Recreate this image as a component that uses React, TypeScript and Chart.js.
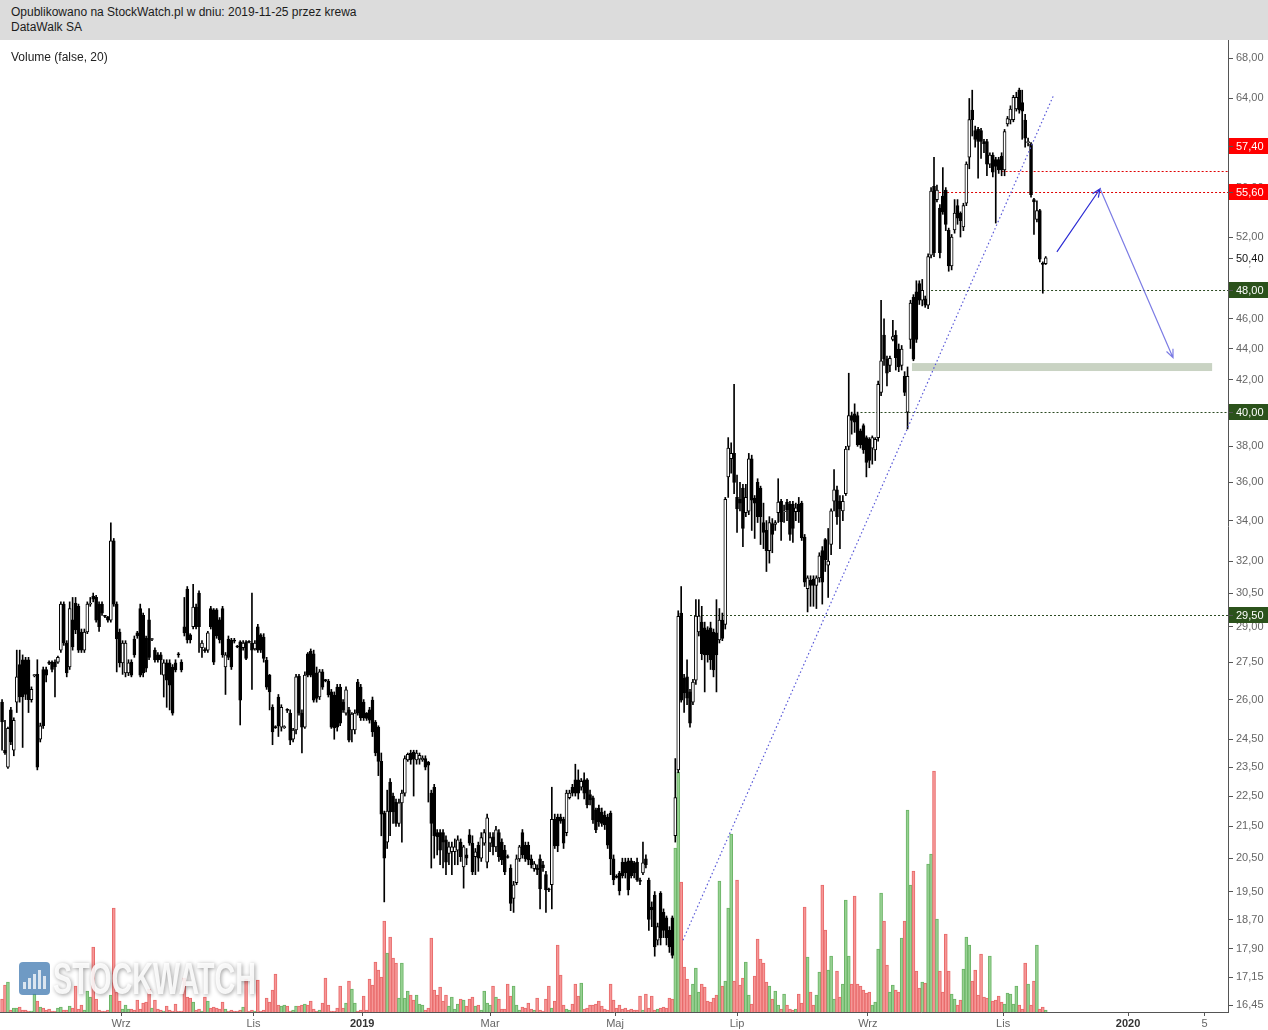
import React, { useEffect, useRef } from 'react';
import { Chart, registerables } from 'chart.js';

Chart.register(...registerables);

// ---- DATA: DataWalk SA daily candles (PLN), index = trading-day number ----
const openPrice = [
  25.9,24.1,23.5,25.6,24.1,25.9,27.4,27.6,27.6,27.6,
  26.0,26.95,27.0,24.5,27.2,27.2,27.5,27.5,27.5,27.5,
  28.0,30.0,28.3,27.3,29.3,30.05,29.9,28.77,28.0,28.77,
  30.0,30.36,30.31,30.0,30.0,29.47,29.42,29.29,32.98,30.0,
  28.77,27.47,27.06,27.06,27.5,28.47,28.73,29.8,29.5,28.5,
  29.3,28.45,28.0,27.8,27.8,26.97,27.47,27.47,27.3,27.47,
  27.85,27.5,29.0,30.68,28.65,29.0,29.87,30.5,28.1,28.0,
  28.0,29.8,29.74,29.74,29.3,29.8,27.3,28.47,28.43,28.4,
  28.15,28.35,28.1,28.35,28.35,28.3,28.05,29.0,28.65,28.55,
  27.59,26.97,25.7,24.95,26.1,24.95,24.93,25.6,25.48,24.5,
  24.84,26.93,25.48,24.95,27.85,27.95,27.85,27.06,26.1,27.1,
  26.77,26.73,26.3,26.18,26.49,26.49,25.9,25.48,25.6,24.84,
  24.84,26.69,26.49,25.9,25.48,25.6,25.98,25.14,24.95,23.7,
  21.93,21.0,22.98,22.5,22.3,21.6,22.27,22.6,23.75,24.0,
  24.03,23.75,23.78,23.75,23.8,23.68,22.6,22.8,21.3,21.3,
  21.3,21.07,20.65,20.7,20.7,20.75,21.0,20.23,20.6,21.23,
  20.97,20.55,20.9,20.5,20.97,20.38,20.97,21.17,20.85,21.3,
  21.0,20.75,20.55,20.2,19.3,19.76,20.48,21.3,20.9,20.9,
  20.48,20.18,20.2,20.48,20.3,20.0,19.56,19.7,21.73,21.8,
  21.8,21.73,21.3,22.45,22.8,23.05,23.05,22.8,23.05,23.05,
  22.55,22.44,22.04,22.1,21.97,21.87,21.8,21.93,20.48,19.95,
  20.05,20.38,20.38,20.42,20.42,20.36,20.38,19.82,20.05,20.48,
  19.84,19.05,19.4,18.13,19.45,18.9,18.75,18.4,18.75,21.2,
  23.4,29.6,26.85,26.9,26.3,25.9,26.77,28.77,29.2,28.95,
  28.86,28.95,28.77,28.73,28.43,29.29,29.1,36.3,37.3,37.6,
  35.2,35.1,35.7,34.4,34.48,37.3,35.16,36.0,35.7,33.9,
  33.5,32.5,33.85,33.8,34.4,35.0,34.45,34.95,34.85,34.85,
  34.45,34.85,34.9,33.17,30.7,31.1,31.15,30.85,31.2,32.5,
  33.05,31.8,32.8,35.0,35.6,35.0,34.5,35.4,38.0,39.8,
  39.9,39.8,38.9,39.2,38.5,38.4,37.9,37.8,38.5,41.2,
  44.9,43.3,42.9,44.6,44.9,43.97,42.9,42.2,40.0,44.6,
  47.5,47.9,48.5,47.3,47.4,46.95,50.6,56.1,55.0,54.3,
  55.3,55.8,52.55,49.8,52.55,54.5,53.9,52.8,54.7,58.6,
  62.9,61.0,61.1,61.0,60.0,60.0,58.0,58.8,58.4,58.4,
  58.7,57.5,61.6,61.97,62.0,63.0,64.8,63.6,61.97,59.9,
  59.8,55.0,53.4,54.1,50.0,49.97,
];

const highPrice = [
  26.0,25.2,24.95,25.7,25.3,28.0,28.0,27.8,27.7,27.7,
  26.5,27.0,27.6,25.1,27.3,27.3,27.55,27.55,27.6,27.75,
  30.1,30.1,28.4,30.1,30.3,30.3,30.0,28.9,28.9,30.1,
  30.3,30.5,30.4,30.1,30.1,29.5,29.45,33.88,33.1,30.1,
  28.9,28.4,28.4,27.6,27.6,28.6,28.8,30.0,29.6,28.6,
  29.8,28.5,28.1,27.9,27.9,27.6,27.6,27.6,27.4,27.6,
  27.9,27.6,30.3,30.8,28.7,30.9,30.0,30.6,28.4,28.1,
  28.8,29.9,29.8,29.8,29.4,29.9,27.9,28.6,28.5,28.5,
  28.2,28.4,28.4,28.4,28.4,30.5,28.4,29.1,28.7,28.7,
  27.7,27.0,25.8,25.0,26.2,25.8,25.0,25.65,25.6,24.9,
  27.0,27.0,25.6,27.1,27.9,28.05,28.0,27.3,27.2,27.2,
  26.8,26.8,26.4,26.3,26.6,26.6,26.0,26.5,25.7,25.5,
  25.6,26.8,26.6,26.0,25.5,25.7,26.1,25.2,25.0,24.0,
  22.0,22.7,23.1,22.6,22.4,22.4,22.7,23.9,24.0,24.1,
  24.1,24.1,24.0,23.9,23.9,23.7,22.7,22.9,21.4,21.4,
  21.4,21.2,21.0,21.0,21.1,21.2,21.1,20.9,20.8,21.4,
  21.2,20.8,21.0,21.3,21.4,21.9,21.3,21.3,21.5,21.4,
  21.1,20.9,20.6,20.3,19.8,20.6,20.9,21.4,21.0,21.0,
  20.6,20.4,20.3,20.6,20.4,20.1,19.6,22.8,21.9,21.9,
  21.9,21.8,22.7,22.7,22.9,23.6,23.4,23.1,23.3,23.1,
  22.7,22.5,22.1,22.2,22.1,22.0,21.9,22.0,20.6,20.0,
  20.1,20.5,20.5,20.5,20.5,20.4,20.5,19.9,21.0,20.6,
  19.9,19.2,19.5,18.6,19.5,19.0,18.8,18.5,18.8,23.8,
  29.7,30.8,27.0,27.6,26.4,26.8,30.2,30.2,29.9,29.2,
  29.0,29.2,28.9,30.2,29.8,29.6,35.2,38.5,38.2,41.7,
  36.4,36.0,35.9,35.9,37.6,37.5,35.3,36.2,35.8,34.9,
  34.0,34.2,34.1,34.0,36.2,35.1,34.8,35.1,35.0,35.0,
  34.9,35.2,35.0,33.3,31.3,31.3,31.3,31.3,32.4,32.7,
  33.1,33.6,34.6,36.7,35.8,35.3,35.3,38.0,42.4,40.0,
  40.5,40.0,39.0,39.3,38.6,38.5,38.6,38.5,41.9,47.3,
  46.0,43.5,43.5,45.9,45.2,44.3,44.2,42.5,42.8,47.3,
  47.7,48.7,48.7,48.8,47.6,50.7,56.0,58.6,56.2,54.6,
  57.7,56.0,52.7,52.2,55.0,55.0,54.0,54.7,58.2,64.0,
  64.8,61.4,61.3,61.2,60.2,60.2,59.0,59.0,58.6,58.6,
  59.0,61.1,62.3,63.3,64.3,64.6,65.0,64.8,62.5,60.3,
  59.9,55.1,54.9,54.2,50.1,50.5,
];

const lowPrice = [
  24.1,23.95,23.45,24.3,23.9,25.5,25.9,24.2,26.0,25.5,
  25.9,26.9,23.4,24.4,24.9,26.7,27.4,27.1,26.1,27.45,
  27.9,28.2,26.9,27.2,28.0,28.7,27.9,27.9,27.9,28.7,
  29.9,30.1,29.2,28.8,29.5,29.4,29.2,29.2,29.9,27.1,
  27.3,27.0,26.9,26.95,26.9,27.7,28.5,26.9,26.9,27.1,
  27.6,28.4,27.5,27.5,27.0,26.1,25.7,25.6,25.4,27.1,
  27.7,27.1,28.6,28.3,28.3,28.9,28.9,27.9,27.7,27.9,
  27.9,28.9,27.4,28.5,28.3,27.7,26.2,27.6,27.2,28.3,
  28.1,25.03,28.0,27.6,28.3,26.4,28.0,27.9,27.9,27.5,
  26.4,25.6,24.3,24.9,24.6,24.8,24.9,25.5,24.3,24.4,
  24.7,25.4,24.0,24.9,26.9,26.9,25.9,25.9,26.0,26.4,
  26.7,26.1,24.9,24.5,24.8,25.0,25.5,25.4,24.4,24.4,
  24.7,25.4,25.2,25.2,25.2,25.1,24.6,23.9,23.2,21.2,
  19.2,20.8,21.2,21.6,21.5,21.5,21.0,22.5,23.7,23.6,
  22.5,23.6,23.6,23.7,23.4,22.3,20.2,20.5,20.6,20.3,
  20.2,20.0,20.3,20.0,20.3,20.3,20.4,19.6,20.3,20.9,
  20.0,20.0,20.1,20.4,20.9,20.2,20.7,20.6,20.7,20.4,
  20.3,20.0,20.5,18.95,18.9,19.7,20.4,20.5,20.4,20.3,
  20.2,20.1,20.0,19.0,20.1,18.9,19.5,19.0,20.8,20.7,
  21.6,20.8,21.2,22.4,22.5,22.5,22.4,22.7,22.4,22.1,
  22.2,21.6,21.3,21.5,21.5,21.4,20.8,20.0,19.7,19.9,
  19.4,19.9,19.9,19.4,19.9,19.9,19.8,19.7,20.0,20.2,
  18.4,18.5,17.7,18.0,18.0,18.2,18.0,17.8,17.65,21.0,
  23.3,25.9,25.5,25.8,24.95,25.8,26.6,28.6,27.6,26.3,
  27.5,27.2,26.9,26.3,28.3,28.4,28.9,35.2,36.5,35.4,
  33.4,34.5,32.7,34.2,34.3,33.5,33.1,33.9,32.8,32.6,
  31.5,31.9,32.4,33.5,33.9,33.0,33.9,34.0,33.0,32.9,
  34.0,33.9,33.0,30.8,29.65,29.9,29.9,29.8,31.0,30.0,
  31.5,30.3,32.3,34.5,33.8,32.6,34.0,35.3,37.8,38.7,
  38.8,38.0,37.9,37.6,36.3,36.8,37.0,37.2,38.3,41.0,
  42.9,41.6,42.5,44.5,42.6,42.5,42.6,41.0,39.0,44.0,
  43.2,44.4,47.0,46.9,46.8,46.7,50.4,50.5,54.8,50.4,
  53.8,52.5,49.4,49.5,52.3,53.0,52.0,52.5,54.5,57.6,
  60.5,59.5,56.8,58.5,59.0,57.0,57.7,56.9,53.1,57.2,
  57.0,57.0,61.4,61.6,61.8,62.8,62.6,60.2,59.5,59.6,
  55.2,52.2,53.2,50.1,47.8,49.9,
];

const closePrice = [
  25.14,24.0,24.9,24.4,25.2,26.9,26.1,26.1,26.2,26.0,
  26.4,26.97,23.5,25.0,25.0,26.97,27.45,27.2,27.3,27.7,
  30.0,28.3,27.06,29.8,28.13,28.86,28.0,28.0,28.77,30.0,
  30.05,30.22,29.29,29.0,29.6,29.45,29.29,32.98,30.0,28.47,
  27.47,28.3,28.3,27.47,26.97,27.8,28.6,26.97,27.06,27.25,
  27.7,28.47,27.59,27.59,27.6,27.47,26.77,26.57,25.48,27.18,
  27.8,27.18,28.73,28.43,28.43,29.87,29.0,29.0,28.3,27.98,
  28.73,29.0,27.5,28.6,28.43,27.8,27.8,27.7,27.3,28.38,
  28.13,25.98,28.3,27.65,28.33,28.0,28.3,28.0,28.0,27.65,
  26.49,26.3,24.77,24.93,24.99,25.7,24.95,25.58,24.47,24.84,
  26.9,25.48,24.95,26.97,26.97,26.97,25.98,26.05,27.1,26.49,
  26.75,26.18,24.95,24.92,24.95,25.1,25.6,26.38,24.47,25.44,
  25.48,25.48,25.3,25.3,25.28,25.21,24.77,24.0,23.7,21.9,
  20.5,22.0,21.97,21.97,21.6,22.27,22.6,23.8,23.95,23.75,
  23.78,24.0,23.92,23.82,23.5,23.57,21.6,21.2,21.17,20.75,
  21.0,20.38,20.85,20.85,20.85,21.07,20.55,20.85,20.5,20.97,
  20.08,20.7,20.5,21.14,21.3,21.78,21.14,20.85,21.39,20.55,
  20.45,20.08,20.52,19.16,19.7,20.48,20.85,20.6,20.48,20.45,
  20.3,20.33,20.15,19.58,20.2,19.55,19.55,21.73,20.88,20.88,
  21.67,20.97,22.6,22.6,22.6,22.6,22.6,23.0,22.6,22.2,
  22.37,21.71,21.39,21.65,21.6,21.55,20.9,20.48,19.84,19.92,
  19.52,19.97,20.05,19.55,19.97,20.05,19.84,19.8,20.36,20.3,
  18.7,18.97,17.95,18.5,18.2,18.4,18.2,17.95,17.72,22.45,
  29.45,25.98,26.26,26.06,25.1,26.69,29.47,29.47,27.85,27.8,
  27.8,27.6,27.18,27.8,29.29,28.5,35.1,37.9,37.6,36.0,
  34.6,34.9,33.6,35.2,37.3,35.06,34.9,34.2,34.2,33.4,
  32.5,33.9,33.3,33.9,34.95,33.93,34.5,34.55,33.3,33.6,
  34.65,34.45,33.13,31.0,31.2,30.85,30.85,31.2,32.25,31.0,
  32.05,32.0,34.5,35.6,34.2,34.6,35.0,37.85,39.8,39.5,
  39.4,38.1,38.1,37.8,37.1,37.2,38.5,38.4,41.7,43.2,
  43.3,42.4,43.35,44.8,43.4,42.8,43.97,41.2,42.2,47.1,
  43.3,44.6,47.3,48.0,46.95,50.5,55.7,50.8,55.8,50.8,
  54.0,53.0,49.8,52.0,53.9,53.5,53.3,54.5,58.0,62.0,
  62.0,60.2,60.0,60.0,59.8,58.0,58.8,57.3,57.8,57.5,
  57.5,60.9,62.1,63.0,64.1,64.1,62.9,62.8,60.3,60.0,
  55.4,54.8,54.1,50.3,49.9,50.4,
];

// volume (thousand shares)
const volume = [
  13,27,30,2,4,4,5,2,2,1,1,
  18,11,5,4,2,3,1,1,4,5,2,
  2,6,4,26,3,7,2,21,15,65,
  13,2,1,1,
  2,17,104,20,11,3,7,
  3,3,2,12,3,9,10,23,4,12,
  3,2,1,
  6,2,1,8,1,1,34,15,14,10,2,
  3,1,15,11,4,5,4,3,10,3,1,
  2,1,1,2,5,33,1,2,1,32,
  1,2,14,10,22,38,7,6,7,6,1,
  2,6,6,7,8,7,11,3,1,2,9,34,7,
  1,1,4,26,4,9,31,23,9,1,2,16,
  2,33,27,50,42,35,91,59,75,54,
  49,14,49,14,21,17,12,17,8,7,
  2,4,74,22,17,25,11,17,6,15,
  3,8,13,12,6,13,15,6,7,2,
  21,9,7,26,15,13,3,3,28,16,26,7,2,5,4,
  9,3,2,14,2,1,13,26,4,11,
  67,37,7,3,2,8,28,16,29,3,
  4,7,7,8,11,6,3,2,28,12,
  4,7,3,4,2,3,2,2,
  16,2,18,4,16,2,3,4,5,4,14,13,
  164,240,130,45,33,17,28,44,20,28,
  25,11,10,14,17,131,26,31,104,178,
  31,132,27,34,50,17,8,36,73,53,
  49,30,26,13,21,7,3,18,7,
  3,2,3,18,9,105,55,20,7,
  17,40,127,82,42,56,13,41,15,
  28,112,56,28,116,28,26,22,19,
  20,7,10,63,119,91,47,20,27,22,
  20,74,91,202,127,141,41,24,30,
  29,148,158,241,93,41,20,78,41,
  18,13,7,12,43,75,67,31,42,17,
  58,15,14,56,11,12,16,
  10,8,19,18,8,26,7,3,49,28,
  7,31,67,3,5,2,
];

// time axis (trading-day index of month starts)
const monthTickIndex = [40.5, 85.5, 122.5, 166, 208.5, 250, 294.5, 340.5, 383, 409];
const monthTickLabel = ['Wrz', 'Lis', '2019', 'Mar', 'Maj', 'Lip', 'Wrz', 'Lis', '2020', '5'];
const yearLabels = ['2019', '2020'];

// price axis ticks (log scale)
const priceTicks = [68, 64, 56, 52, 50, 48, 46, 44, 42, 40, 38, 36, 34, 32, 30.5, 29, 27.5, 26, 24.5, 23.5, 22.5, 21.5, 20.5, 19.5, 18.7, 17.9, 17.15, 16.45];

// drawn analysis
const levelPrice = [57.4, 55.6, 48, 40, 29.5];
const levelFromIndex = [340, 316, 316, 292, 234];
const levelKind = ['resistance', 'resistance', 'support', 'support', 'support'];
const bandFromIndex = 309.5;
const bandToIndex = 411.6;
const bandLow = 42.54;
const bandHigh = 43.05;
const trendIndex = [231.6, 357.5];
const trendPrice = [18.13, 64.2];
const pathIndex = [358.8, 373.5, 398.3];
const pathPrice = [50.85, 55.9, 43.4];

const X_MIN = -0.7;
const X_MAX = 417;
const Y_MIN = 16.28;
const Y_MAX = 69.86;

const FONT = '"Liberation Sans", Arial, Helvetica, sans-serif';
const fmt = (v: number) => v.toFixed(2).replace('.', ',');

function drawArrow(ctx: CanvasRenderingContext2D, x1: number, y1: number, x2: number, y2: number, color: string) {
  ctx.save();
  ctx.strokeStyle = color;
  ctx.lineWidth = 1.2;
  ctx.beginPath();
  ctx.moveTo(x1, y1);
  ctx.lineTo(x2, y2);
  const a = Math.atan2(y2 - y1, x2 - x1);
  const L = 9;
  ctx.moveTo(x2 - L * Math.cos(a - 0.4), y2 - L * Math.sin(a - 0.4));
  ctx.lineTo(x2, y2);
  ctx.lineTo(x2 - L * Math.cos(a + 0.4), y2 - L * Math.sin(a + 0.4));
  ctx.stroke();
  ctx.restore();
}

const decorPlugin = {
  id: 'decor',
  beforeDatasetsDraw(chart: any) {
    const { ctx, chartArea: area, scales } = chart;
    const xs = scales.x, ys = scales.y;
    ctx.save();
    // support band
    const bx1 = xs.getPixelForValue(bandFromIndex);
    const bx2 = xs.getPixelForValue(bandToIndex);
    const by1 = ys.getPixelForValue(bandHigh);
    const by2 = ys.getPixelForValue(bandLow);
    ctx.fillStyle = '#c9d3c3';
    ctx.fillRect(bx1, by1, bx2 - bx1, by2 - by1);
    // horizontal levels
    ctx.lineWidth = 1;
    ctx.setLineDash([2, 2]);
    levelPrice.forEach((p, k) => {
      const y = Math.round(ys.getPixelForValue(p)) + 0.5;
      const x = xs.getPixelForValue(levelFromIndex[k]);
      ctx.strokeStyle = levelKind[k] === 'resistance' ? '#e00000' : '#2c4a22';
      ctx.beginPath();
      ctx.moveTo(x, y);
      ctx.lineTo(area.right, y);
      ctx.stroke();
    });
    ctx.restore();
  },
  afterDatasetsDraw(chart: any) {
    const { ctx, chartArea: area, scales } = chart;
    const xs = scales.x, ys = scales.y;
    ctx.save();
    // trend line
    ctx.strokeStyle = '#5858d8';
    ctx.lineWidth = 1.2;
    ctx.setLineDash([1.5, 2.5]);
    ctx.beginPath();
    ctx.moveTo(xs.getPixelForValue(trendIndex[0]), ys.getPixelForValue(trendPrice[0]));
    ctx.lineTo(xs.getPixelForValue(trendIndex[1]), ys.getPixelForValue(trendPrice[1]));
    ctx.stroke();
    ctx.setLineDash([]);
    ctx.restore();
    // forecast arrows
    const px = pathIndex.map((v) => xs.getPixelForValue(v));
    const py = pathPrice.map((v) => ys.getPixelForValue(v));
    drawArrow(ctx, px[0], py[0], px[1], py[1], '#2c2cd4');
    drawArrow(ctx, px[1], py[1], px[2], py[2], '#7c7ce4');

    // watermark
    const x0 = area.left + 18;
    const y0 = area.bottom - 54;
    ctx.save();
    ctx.globalAlpha = 0.75;
    ctx.fillStyle = '#3f78b0';
    ctx.beginPath();
    const rx = x0 + 1, ry = y0 + 4, rw = 31, rh = 33, rr = 4;
    ctx.moveTo(rx + rr, ry);
    ctx.arcTo(rx + rw, ry, rx + rw, ry + rh, rr);
    ctx.arcTo(rx + rw, ry + rh, rx, ry + rh, rr);
    ctx.arcTo(rx, ry + rh, rx, ry, rr);
    ctx.arcTo(rx, ry, rx + rw, ry, rr);
    ctx.closePath();
    ctx.fill();
    ctx.fillStyle = '#ffffff';
    [7, 11, 15, 19, 13].forEach((h, k) => ctx.fillRect(rx + 4 + k * 5, ry + rh - 6 - h, 3, h));
    ctx.globalAlpha = 0.88;
    ctx.font = `bold 44px ${FONT}`;
    const w = ctx.measureText('STOCKWATCH').width;
    ctx.translate(x0 + 35, y0 + 36);
    ctx.scale(203 / w, 1);
    ctx.shadowColor = 'rgba(0,0,0,0.45)';
    ctx.shadowBlur = 4;
    ctx.shadowOffsetX = 1;
    ctx.shadowOffsetY = 1;
    ctx.fillStyle = '#ffffff';
    ctx.textBaseline = 'alphabetic';
    ctx.fillText('STOCKWATCH', 0, 0);
    ctx.restore();

    // indicator caption
    ctx.save();
    ctx.font = `12px ${FONT}`;
    ctx.fillStyle = '#222';
    ctx.textBaseline = 'middle';
    ctx.fillText('Volume (false, 20)', area.left + 11, area.top + 18);
    ctx.restore();
  },
  afterDraw(chart: any) {
    const { ctx, chartArea: area, scales } = chart;
    const ys = scales.y;
    const last = closePrice[closePrice.length - 1];
    const marks = [
      { v: levelPrice[0], bg: '#ff0000', fg: '#ffffff', shift: -25 },
      { v: levelPrice[1], bg: '#ff0000', fg: '#ffffff', shift: 0 },
      { v: last, bg: '#ffffff', fg: '#111111', shift: 0 },
      { v: levelPrice[2], bg: '#2b521b', fg: '#ffffff', shift: 0 },
      { v: levelPrice[3], bg: '#2b521b', fg: '#ffffff', shift: 0 },
      { v: levelPrice[4], bg: '#2b521b', fg: '#ffffff', shift: 0 },
    ];
    ctx.save();
    ctx.font = `11px ${FONT}`;
    ctx.textBaseline = 'middle';
    marks.forEach((m) => {
      const y = Math.round(ys.getPixelForValue(m.v)) + m.shift;
      ctx.fillStyle = m.bg;
      ctx.fillRect(area.right + 1, y - 8, chart.width - area.right - 1, 16);
      ctx.strokeStyle = '#555';
      ctx.lineWidth = 1;
      ctx.beginPath();
      ctx.moveTo(area.right, y + 0.5);
      ctx.lineTo(area.right + 5, y + 0.5);
      ctx.stroke();
      ctx.fillStyle = m.fg;
      ctx.fillText(fmt(m.v), area.right + 8, y + 0.5);
    });
    ctx.restore();
  },
};

export default function App() {
  const canvasRef = useRef<HTMLCanvasElement | null>(null);

  useEffect(() => {
    document.body.style.margin = '0';
    const canvas = canvasRef.current;
    if (!canvas) return;
    const up = closePrice.map((c, i) => c >= openPrice[i]);
    const bodies = closePrice.map((c, i) => ({ x: i, y: [openPrice[i], c] }));
    const wicks = closePrice.map((c, i) => ({
      x: i,
      y: [Math.min(lowPrice[i], openPrice[i], c), Math.max(highPrice[i], openPrice[i], c)],
    }));
    const vols = volume.map((v, i) => ({ x: i, y: v }));

    const chart = new Chart(canvas, {
      type: 'bar',
      data: {
        datasets: [
          {
            label: 'body',
            data: bodies as any,
            xAxisID: 'x',
            yAxisID: 'y',
            barThickness: 3,
            grouped: false,
            backgroundColor: up.map((u) => (u ? '#ffffff' : '#000000')),
            borderColor: '#000000',
            borderWidth: 1,
            borderSkipped: false,
            minBarLength: 1,
            order: 0,
          } as any,
          {
            label: 'wick',
            data: wicks as any,
            xAxisID: 'x',
            yAxisID: 'y',
            barThickness: 1,
            grouped: false,
            backgroundColor: '#000000',
            borderWidth: 0,
            minBarLength: 1,
            order: 1,
          } as any,
          {
            label: 'volume',
            data: vols as any,
            xAxisID: 'x',
            yAxisID: 'yv',
            barThickness: 3,
            grouped: false,
            backgroundColor: closePrice.map((c, i) => (up[i] ? 'rgba(150,210,145,0.9)' : 'rgba(246,150,150,0.9)')),
            borderColor: closePrice.map((c, i) => (up[i] ? '#6cb467' : '#e86b6b')),
            borderWidth: 1,
            order: 2,
          } as any,
        ],
      },
      options: {
        responsive: false,
        animation: false,
        events: [],
        layout: { padding: 0 },
        plugins: { legend: { display: false }, tooltip: { enabled: false } },
        scales: {
          x: {
            type: 'linear',
            min: X_MIN,
            max: X_MAX,
            offset: false,
            afterBuildTicks: (s: any) => {
              s.ticks = monthTickIndex.map((v) => ({ value: v }));
            },
            afterFit: (s: any) => {
              s.height = 18;
              s.paddingLeft = 0;
              s.paddingRight = 0;
            },
            ticks: {
              autoSkip: false,
              maxRotation: 0,
              padding: 1,
              callback: (_v: any, i: number) => monthTickLabel[i],
              color: (c: any) => (yearLabels.includes(monthTickLabel[c.index]) ? '#333' : '#666'),
              font: (c: any) => ({
                family: FONT,
                size: 11,
                weight: yearLabels.includes(monthTickLabel[c.index]) ? 'bold' : 'normal',
              }),
            },
            grid: { drawOnChartArea: false, drawTicks: true, tickLength: 4, color: '#555', offset: false },
            border: { display: true, color: '#555' },
          } as any,
          y: {
            type: 'logarithmic',
            position: 'right',
            min: Y_MIN,
            max: Y_MAX,
            afterBuildTicks: (s: any) => {
              s.ticks = priceTicks.map((v) => ({ value: v }));
            },
            afterFit: (s: any) => {
              s.width = 40;
              s.paddingTop = 0;
              s.paddingBottom = 0;
            },
            ticks: {
              autoSkip: false,
              padding: 3,
              color: '#666',
              font: { family: FONT, size: 11 },
              callback: (v: any) => fmt(Number(v)),
            },
            grid: { drawOnChartArea: false, tickLength: 5, color: '#555', offset: false },
            border: { display: true, color: '#555' },
          } as any,
          yv: {
            type: 'linear',
            display: false,
            min: 0,
            max: 972,
          },
        },
      },
      plugins: [decorPlugin],
    });
    return () => chart.destroy();
  }, []);

  return (
    <div style={{ width: 1268, height: 1030, position: 'relative', background: '#fff', overflow: 'hidden' }}>
      <style>{'body{margin:0;}'}</style>
      <div
        style={{
          height: 40,
          background: '#dcdcdc',
          boxSizing: 'border-box',
          padding: '5px 0 0 11px',
          fontFamily: FONT,
          fontSize: 12,
          lineHeight: '15px',
          color: '#1b1b1b',
        }}
      >
        <div>Opublikowano na StockWatch.pl w dniu: 2019-11-25 przez krewa</div>
        <div>DataWalk SA</div>
      </div>
      <canvas ref={canvasRef} width={1268} height={990} style={{ display: 'block', width: 1268, height: 990 }} />
    </div>
  );
}
